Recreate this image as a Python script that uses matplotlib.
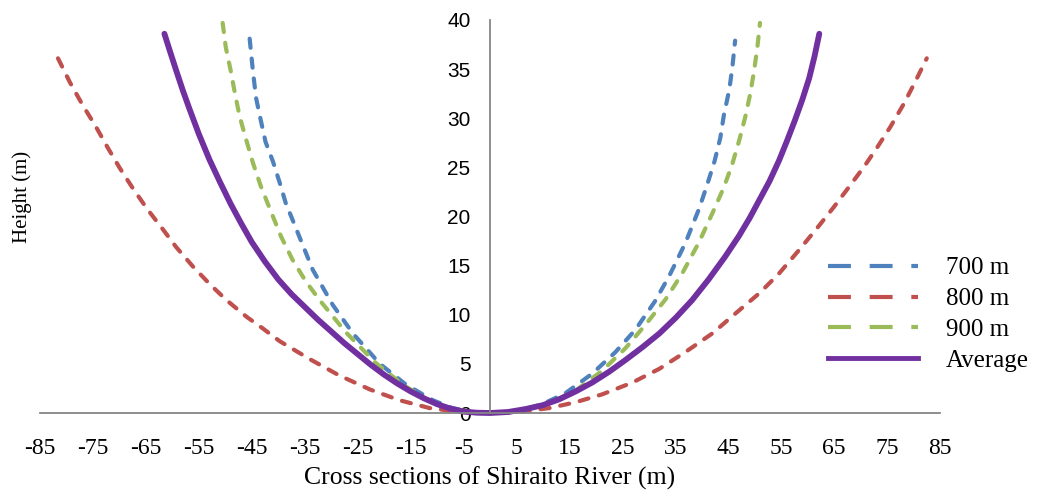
import numpy as np
import matplotlib.pyplot as plt
from matplotlib.lines import Line2D

plt.rcParams['axes.unicode_minus'] = False

# Datos (x en m, altura en m)
x_700 = [-45.4, -44.8, -44.2, -43.3, -42.4, -41.0, -39.7, -38.6, -35.9, -33.5, -29.7, -25.9, -20.8,
         -15.9, -10.8, -7.1, -3.5, 0.0, 5.6, 9.9, 14.2, 19.3, 23.7, 27.5, 31.2, 33.9, 36.9, 39.5, 41.0,
         42.4, 43.5, 44.2, 45.2, 45.8, 46.3]
y_700 = [38.1, 34.9, 32.1, 29.8, 27.6, 25.6, 23.4, 21.4, 17.8, 14.6, 11.0, 8.1, 5.0,
         2.9, 1.3, 0.5, 0.1, 0.0, 0.2, 0.9, 2.0, 4.0, 6.2, 8.5, 11.4, 14.0, 17.3, 20.8, 23.2,
         25.6, 28.0, 30.4, 32.9, 35.3, 37.9]

x_800 = [-81.6, -79.3, -76.9, -74.4, -72.2, -69.9, -67.5, -64.8, -61.8, -59.3, -56.1, -52.9, -49.8,
         -46.0, -42.9, -39.7, -34.1, -28.4, -22.7, -17.1, -11.4, -7.1, -3.5, 0.0, 5.6, 11.2, 16.2, 21.2,
         26.9, 32.0, 36.9, 42.0, 46.3, 50.9, 54.6, 58.4, 62.2, 65.0, 67.8, 70.7, 73.1, 75.6, 78.2,
         80.3, 82.5]
y_800 = [36.1, 33.6, 31.3, 29.1, 27.0, 24.9, 22.9, 20.8, 18.7, 16.9, 14.9, 13.1, 11.5,
         9.8, 8.6, 7.3, 5.5, 3.8, 2.4, 1.3, 0.5, 0.2, 0.0, 0.0, 0.1, 0.5, 1.1, 1.9,
         3.1, 4.5, 6.2, 8.1, 10.1, 12.2, 14.2, 16.6, 19.1, 21.0, 23.0, 25.1, 27.0, 29.1, 31.5,
         33.7, 36.1]

x_900 = [-50.5, -49.9, -49.0, -48.2, -47.3, -46.1, -44.8, -43.3, -41.6, -39.5, -37.3, -34.8, -32.2,
         -27.2, -21.6, -16.5, -11.4, -7.1, -3.5, 0.0, 5.6, 11.2, 16.2, 21.2, 25.6, 29.4, 33.2, 36.3,
         39.5, 42.4, 44.2, 45.8, 47.1, 48.2, 49.2, 49.9, 50.5, 51.0]
y_900 = [39.7, 37.2, 34.9, 32.6, 30.2, 27.9, 25.5, 23.1, 20.8, 18.0, 15.6, 13.4, 11.5,
         8.2, 5.1, 2.9, 1.2, 0.4, 0.1, 0.0, 0.2, 1.0, 2.3, 4.3, 6.6, 9.0, 11.6, 14.2,
         17.4, 20.8, 23.0, 25.4, 27.8, 30.1, 32.6, 34.9, 37.2, 39.7]

x_prom = [-61.5, -60.5, -59.3, -58.0, -56.8, -55.0, -53.0, -51.0, -49.0, -47.0, -45.0, -42.5,
          -40.0, -37.5, -35.0, -32.5, -30.0, -27.5, -25.0, -22.5, -20.0, -17.5, -15.0, -12.5,
          -10.0, -7.5, -5.0, -2.5, 0.0, 3.4, 6.7, 10.0, 13.1, 16.2, 19.3, 22.5, 25.6, 28.8,
          32.0, 35.1, 38.2, 41.3, 44.4, 47.0, 49.0, 50.9, 52.8, 54.6, 56.1, 57.6, 59.0, 60.3,
          61.3, 62.2]
y_prom = [38.6, 36.9, 34.9, 32.8, 31.0, 28.4, 25.8, 23.5, 21.3, 19.3, 17.4, 15.4,
          13.6, 12.1, 10.8, 9.5, 8.3, 7.1, 6.0, 4.9, 3.9, 3.0, 2.2, 1.5,
          0.9, 0.45, 0.15, 0.03, 0.0, 0.1, 0.4, 0.8, 1.4, 2.2, 3.1, 4.2, 5.4, 6.7,
          8.1, 9.7, 11.5, 13.6, 15.9, 18.0, 19.8, 21.7, 23.6, 25.7, 27.7, 29.8, 31.9, 34.1,
          36.3, 38.6]

etiquetas = ['700 m', '800 m', '900 m', 'Average']
colores = ['#4F81BD', '#C0504D', '#9BBB59', '#7030A0']
x_ticks = np.arange(-85, 86, 10)
y_ticks = np.arange(0, 41, 5)

serif = 'Liberation Serif'
sans = 'Liberation Sans'

fig = plt.figure(figsize=(10.38, 4.98), dpi=100)
ax = fig.add_axes([40/1038, 1-413/498, 900/1038, 393/498])

guion = dict(linewidth=3.0, dashes=(2.2, 2.6), dash_capstyle='round', clip_on=False)
ax.plot(x_700, y_700, color=colores[0], **guion)
ax.plot(x_800, y_800, color=colores[1], **guion)
ax.plot(x_900, y_900, color=colores[2], **guion)
ax.plot(x_prom, y_prom, color=colores[3], linewidth=4.2, solid_capstyle='round',
        solid_joinstyle='round', clip_on=False)

ax.set_xlim(-85, 85)
ax.set_ylim(0, 40)
ax.set_xticks(x_ticks)
ax.set_yticks(y_ticks)

for s in ['top', 'right']:
    ax.spines[s].set_visible(False)
ax.spines['left'].set_position(('data', 0))
for s in ['left', 'bottom']:
    ax.spines[s].set_color('#868686')
    ax.spines[s].set_linewidth(1.3)

ax.tick_params(axis='x', length=0, pad=18, labelsize=17)
ax.tick_params(axis='y', length=0, pad=14, labelsize=15)
for t in ax.get_xticklabels():
    t.set_fontfamily(serif)
for t in ax.get_yticklabels():
    t.set_fontfamily(sans)

fig.text(490/1038, 1-478/498, 'Cross sections of Shiraito River (m)', family=serif,
         fontsize=18.5, ha='center', va='center')
fig.text(22/1038, 1-197/498, 'Height (m)', family=serif, fontsize=15,
         rotation=90, ha='center', va='center')

# Leyenda
manijas = [Line2D([], [], color=colores[0], linewidth=3.0, dashes=(5.5, 4.5)),
           Line2D([], [], color=colores[1], linewidth=3.0, dashes=(5.5, 4.5)),
           Line2D([], [], color=colores[2], linewidth=3.0, dashes=(5.5, 4.5)),
           Line2D([], [], color=colores[3], linewidth=3.5)]
fig.legend(manijas, etiquetas, loc='upper left', bbox_to_anchor=(828/1038, 1-257/498),
           frameon=False, borderpad=0, borderaxespad=0, handlelength=3.6,
           handletextpad=1.1, labelspacing=0.33, prop={'family': serif, 'size': 18})

fig.savefig('out.png', dpi=100)
